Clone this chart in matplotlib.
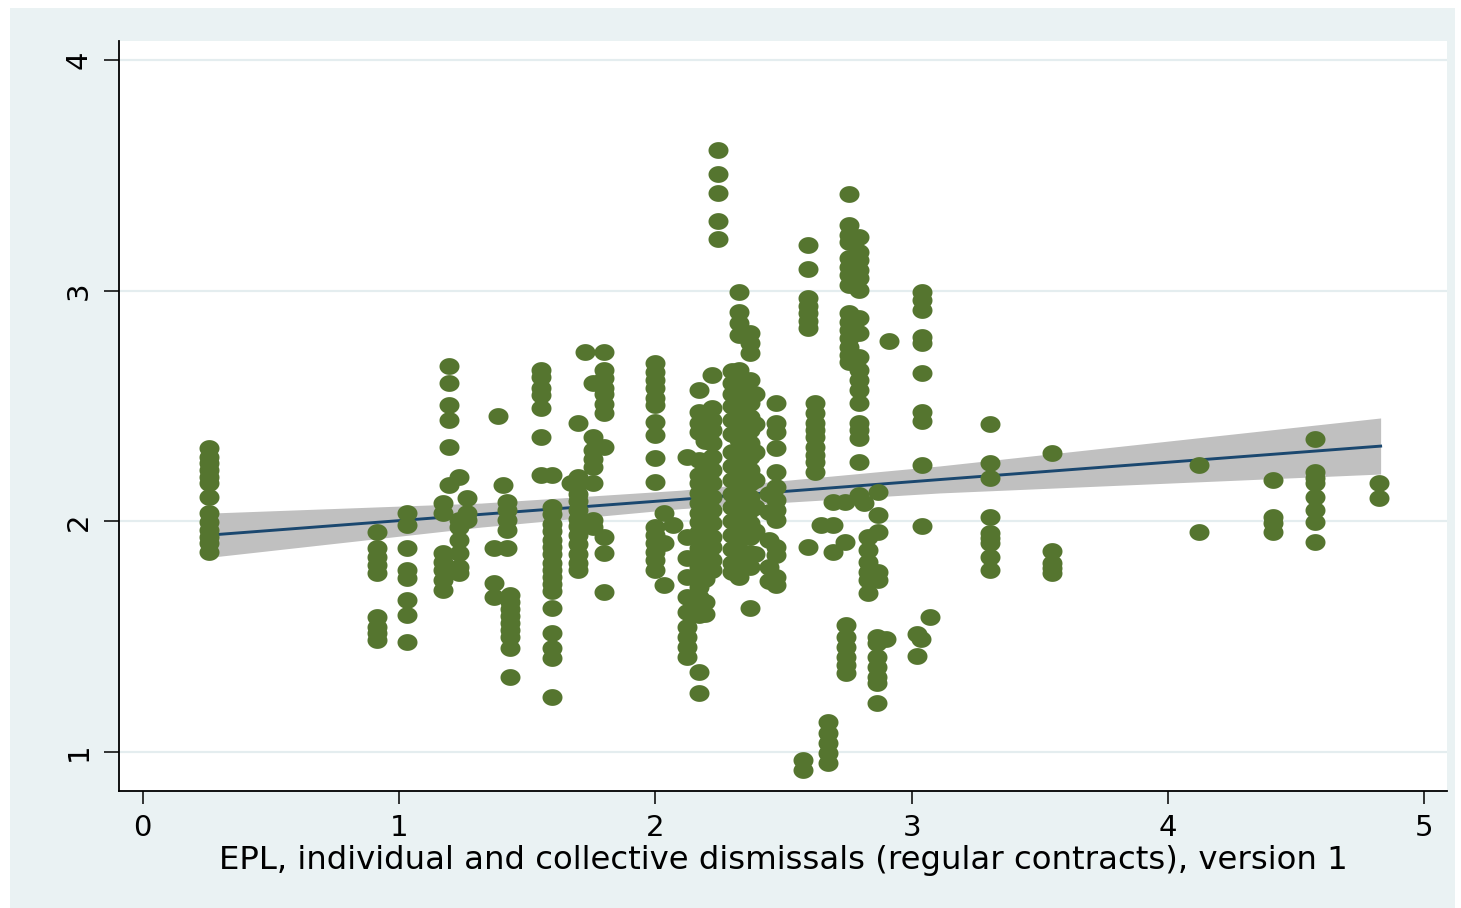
import numpy as np
import matplotlib
matplotlib.use("Agg")
import matplotlib.pyplot as plt
from matplotlib.path import Path
from matplotlib.patches import Rectangle

# ---- observations: EPL level of each column and the outcome values stacked on it ----
levels_low = [0.26, 0.915, 1.03, 1.17, 1.195, 1.235, 1.265, 1.37, 1.385, 1.405, 1.42, 1.435]
scores_low = [
    [2.318, 2.279, 2.253, 2.222, 2.192, 2.166, 2.105, 2.036, 1.997, 1.962, 1.932, 1.906, 1.867],
    [1.954, 1.884, 1.845, 1.811, 1.776, 1.585, 1.542, 1.516, 1.485],
    [2.036, 1.984, 1.884, 1.789, 1.754, 1.659, 1.594, 1.477],
    [2.079, 2.036, 1.863, 1.824, 1.789, 1.746, 1.702],
    [2.673, 2.599, 2.504, 2.439, 2.322, 2.157],
    [2.192, 2.005, 1.975, 1.919, 1.863, 1.802, 1.776],
    [2.100, 2.036, 2.005],
    [1.884, 1.733, 1.672],
    [2.456],
    [2.157],
    [2.084, 2.049, 2.006, 1.962, 1.884],
    [1.681, 1.650, 1.620, 1.590, 1.560, 1.530, 1.500, 1.450, 1.325],
]

levels_mid = [1.555, 1.595, 1.67, 1.70, 1.725, 1.755, 1.80, 2.0, 2.035, 2.07, 2.125, 2.17, 2.195]
scores_mid = [
    [2.656, 2.625, 2.578, 2.548, 2.491, 2.365, 2.201],
    [2.201, 2.062, 2.030, 1.990, 1.960, 1.920, 1.890, 1.860, 1.820, 1.790, 1.760, 1.730, 1.700,
     1.624, 1.516, 1.451, 1.407, 1.238],
    [2.166],
    [2.426, 2.192, 2.160, 2.120, 2.090, 2.050, 2.010, 1.980, 1.940, 1.900, 1.860, 1.820, 1.790],
    [2.734],
    [2.599, 2.365, 2.309, 2.270, 2.235, 2.166, 2.006, 1.975],
    [2.734, 2.656, 2.620, 2.580, 2.550, 2.510, 2.470, 2.322, 1.932, 1.863, 1.694],
    [2.686, 2.647, 2.612, 2.578, 2.534, 2.504, 2.430, 2.374, 2.274, 2.170, 1.975, 1.941, 1.906,
     1.867, 1.832, 1.789],
    [2.036, 1.906, 1.724],
    [1.984],
    [2.279, 1.932, 1.841, 1.759, 1.672, 1.607, 1.542, 1.498, 1.455, 1.412],
    [2.569, 2.474, 2.426, 2.387, 2.266, 2.201, 2.166, 2.123, 2.079, 2.036, 1.997, 1.954, 1.919,
     1.884, 1.845, 1.802, 1.759, 1.715, 1.672, 1.629, 1.594, 1.347, 1.256],
    [2.440, 2.350, 2.250, 2.150, 2.050, 1.950, 1.850, 1.750, 1.650, 1.600],
]

levels_core = [2.22, 2.245, 2.30, 2.325, 2.37, 2.39, 2.445, 2.47]
scores_core = [
    [2.634, 2.491, 2.439, 2.396, 2.339, 2.279, 2.222, 2.166, 2.105, 2.049, 1.993, 1.932, 1.889,
     1.832, 1.789],
    [3.609, 3.505, 3.423, 3.302, 3.224],
    [2.650, 2.600, 2.550, 2.500, 2.440, 2.380, 2.300, 2.240, 2.180, 2.120, 2.060, 2.000, 1.940,
     1.880, 1.820, 1.780],
    [2.995, 2.909, 2.859, 2.807, 2.656, 2.612, 2.569, 2.526, 2.482, 2.439, 2.396, 2.352, 2.309,
     2.266, 2.222, 2.179, 2.136, 2.092, 2.049, 2.006, 1.962, 1.919, 1.876, 1.832, 1.789, 1.759],
    [2.816, 2.773, 2.730, 2.612, 2.556, 2.513, 2.452, 2.396, 2.339, 2.279, 2.222, 2.166, 2.105,
     2.049, 1.993, 1.932, 1.863, 1.802, 1.624],
    [2.550, 2.420, 2.300, 2.180, 2.060, 1.960, 1.860],
    [2.120, 2.040, 1.920, 1.800, 1.740],
    [2.513, 2.426, 2.387, 2.318, 2.214, 2.149, 2.092, 2.049, 2.006, 1.889, 1.854, 1.759, 1.724],
]

levels_high = [2.576, 2.595, 2.625, 2.645, 2.674, 2.695, 2.74, 2.745, 2.755, 2.795, 2.815,
               2.83, 2.865, 2.87, 2.90, 2.91, 3.02, 3.035, 3.04, 3.07]
scores_high = [
    [0.965, 0.922],
    [3.198, 3.094, 2.966, 2.934, 2.902, 2.870, 2.837, 1.889],
    [2.513, 2.469, 2.426, 2.396, 2.365, 2.322, 2.287, 2.257, 2.214],
    [1.984],
    [1.130, 1.082, 1.039, 0.996, 0.952],
    [2.084, 1.984, 1.867],
    [2.084, 1.910],
    [1.550, 1.498, 1.455, 1.412, 1.377, 1.342],
    [3.419, 3.284, 3.241, 3.211, 3.141, 3.102, 3.067, 3.024, 2.902, 2.864, 2.829, 2.795, 2.756,
     2.721, 2.691],
    [3.232, 3.167, 3.132, 3.089, 3.054, 3.002, 2.881, 2.816, 2.712, 2.656, 2.612, 2.569, 2.513,
     2.426, 2.396, 2.361, 2.257, 2.114],
    [2.079],
    [1.932, 1.876, 1.824, 1.780, 1.746, 1.689],
    [1.498, 1.472, 1.412, 1.368, 1.325, 1.299, 1.212],
    [2.127, 2.027, 1.954, 1.780, 1.746],
    [1.489],
    [2.782],
    [1.417, 1.513],
    [1.489],
    [2.994, 2.959, 2.916, 2.799, 2.773, 2.643, 2.474, 2.436, 2.243, 1.978],
    [1.585],
]

levels_top = [3.307, 3.547, 4.12, 4.41, 4.575, 4.825]
scores_top = [
    [2.422, 2.254, 2.188, 2.019, 1.949, 1.928, 1.906, 1.845, 1.789],
    [2.297, 1.873, 1.819, 1.798, 1.776],
    [2.244, 1.954],
    [2.179, 2.020, 1.993, 1.955],
    [2.357, 2.215, 2.188, 2.166, 2.107, 2.049, 1.998, 1.912],
    [2.165, 2.100],
]

# ---- linear fit and its 95% confidence band ----
fit_x = [0.27, 1.32, 2.10, 3.11, 4.83]
fit_y = [1.941, 2.030, 2.095, 2.181, 2.326]
ci_low = [1.845, 1.975, 2.055, 2.123, 2.205]
ci_high = [2.036, 2.079, 2.135, 2.240, 2.448]

x_ticks = [0, 1, 2, 3, 4, 5]
y_ticks = [1, 2, 3, 4]
x_title = "EPL, individual and collective dismissals (regular contracts), version 1"


def stack(levels, scores):
    xs, ys = [], []
    for lv, col in zip(levels, scores):
        xs.extend([lv] * len(col))
        ys.extend(col)
    return xs, ys


px, py = [], []
for lv, sc in [(levels_low, scores_low), (levels_mid, scores_mid), (levels_core, scores_core),
               (levels_high, scores_high), (levels_top, scores_top)]:
    a, b = stack(lv, sc)
    px.extend(a)
    py.extend(b)

plt.rcParams["font.family"] = ["DejaVu Sans"]

W, H = 1461, 908
fig = plt.figure(figsize=(W / 100, H / 100), dpi=100, facecolor="white")
fig.patches.append(Rectangle((10 / W, 0), (1455 - 10) / W, (H - 8) / H,
                             transform=fig.transFigure, facecolor="#EAF2F3",
                             edgecolor="none", zorder=-5))

ax = fig.add_axes([119 / W, 1 - 791 / H, (1447 - 119) / W, (791 - 41) / H])
ax.set_facecolor("white")
ax.set_xlim(-0.0925, 5.089)
ax.set_ylim(0.831, 4.082)

for s in ["top", "right"]:
    ax.spines[s].set_visible(False)
for s in ["left", "bottom"]:
    ax.spines[s].set_linewidth(1.3)
    ax.spines[s].set_color("black")

ax.set_yticks(y_ticks)
ax.set_xticks(x_ticks)
ax.set_yticklabels([str(t) for t in y_ticks], rotation=90, va="center")
ax.set_xticklabels([str(t) for t in x_ticks])
ax.tick_params(axis="x", length=9.5, width=1.1, pad=7, labelsize=21, colors="black")
ax.tick_params(axis="y", length=11, width=1.1, pad=8, labelsize=21, colors="black")

for t in y_ticks:
    ax.axhline(t, color="#E4EDEF", linewidth=1.6, zorder=0)

ax.fill_between(fit_x, ci_low, ci_high, color="#C0C0C0", linewidth=0, zorder=1)
ax.plot(fit_x, fit_y, color="#1A476F", linewidth=2.1, zorder=2)

theta = np.linspace(0, 2 * np.pi, 64)
ellipse = Path(np.column_stack([np.cos(theta), 0.84 * np.sin(theta)]), closed=True)
ax.scatter(px, py, s=14.4 ** 2, marker=ellipse, color="#55752F", linewidths=0, zorder=3)

fig.text(783 / W, 1 - 869 / H, x_title, ha="center", va="baseline", fontsize=23.3)

fig.savefig("out.png", dpi=100, facecolor="white")
